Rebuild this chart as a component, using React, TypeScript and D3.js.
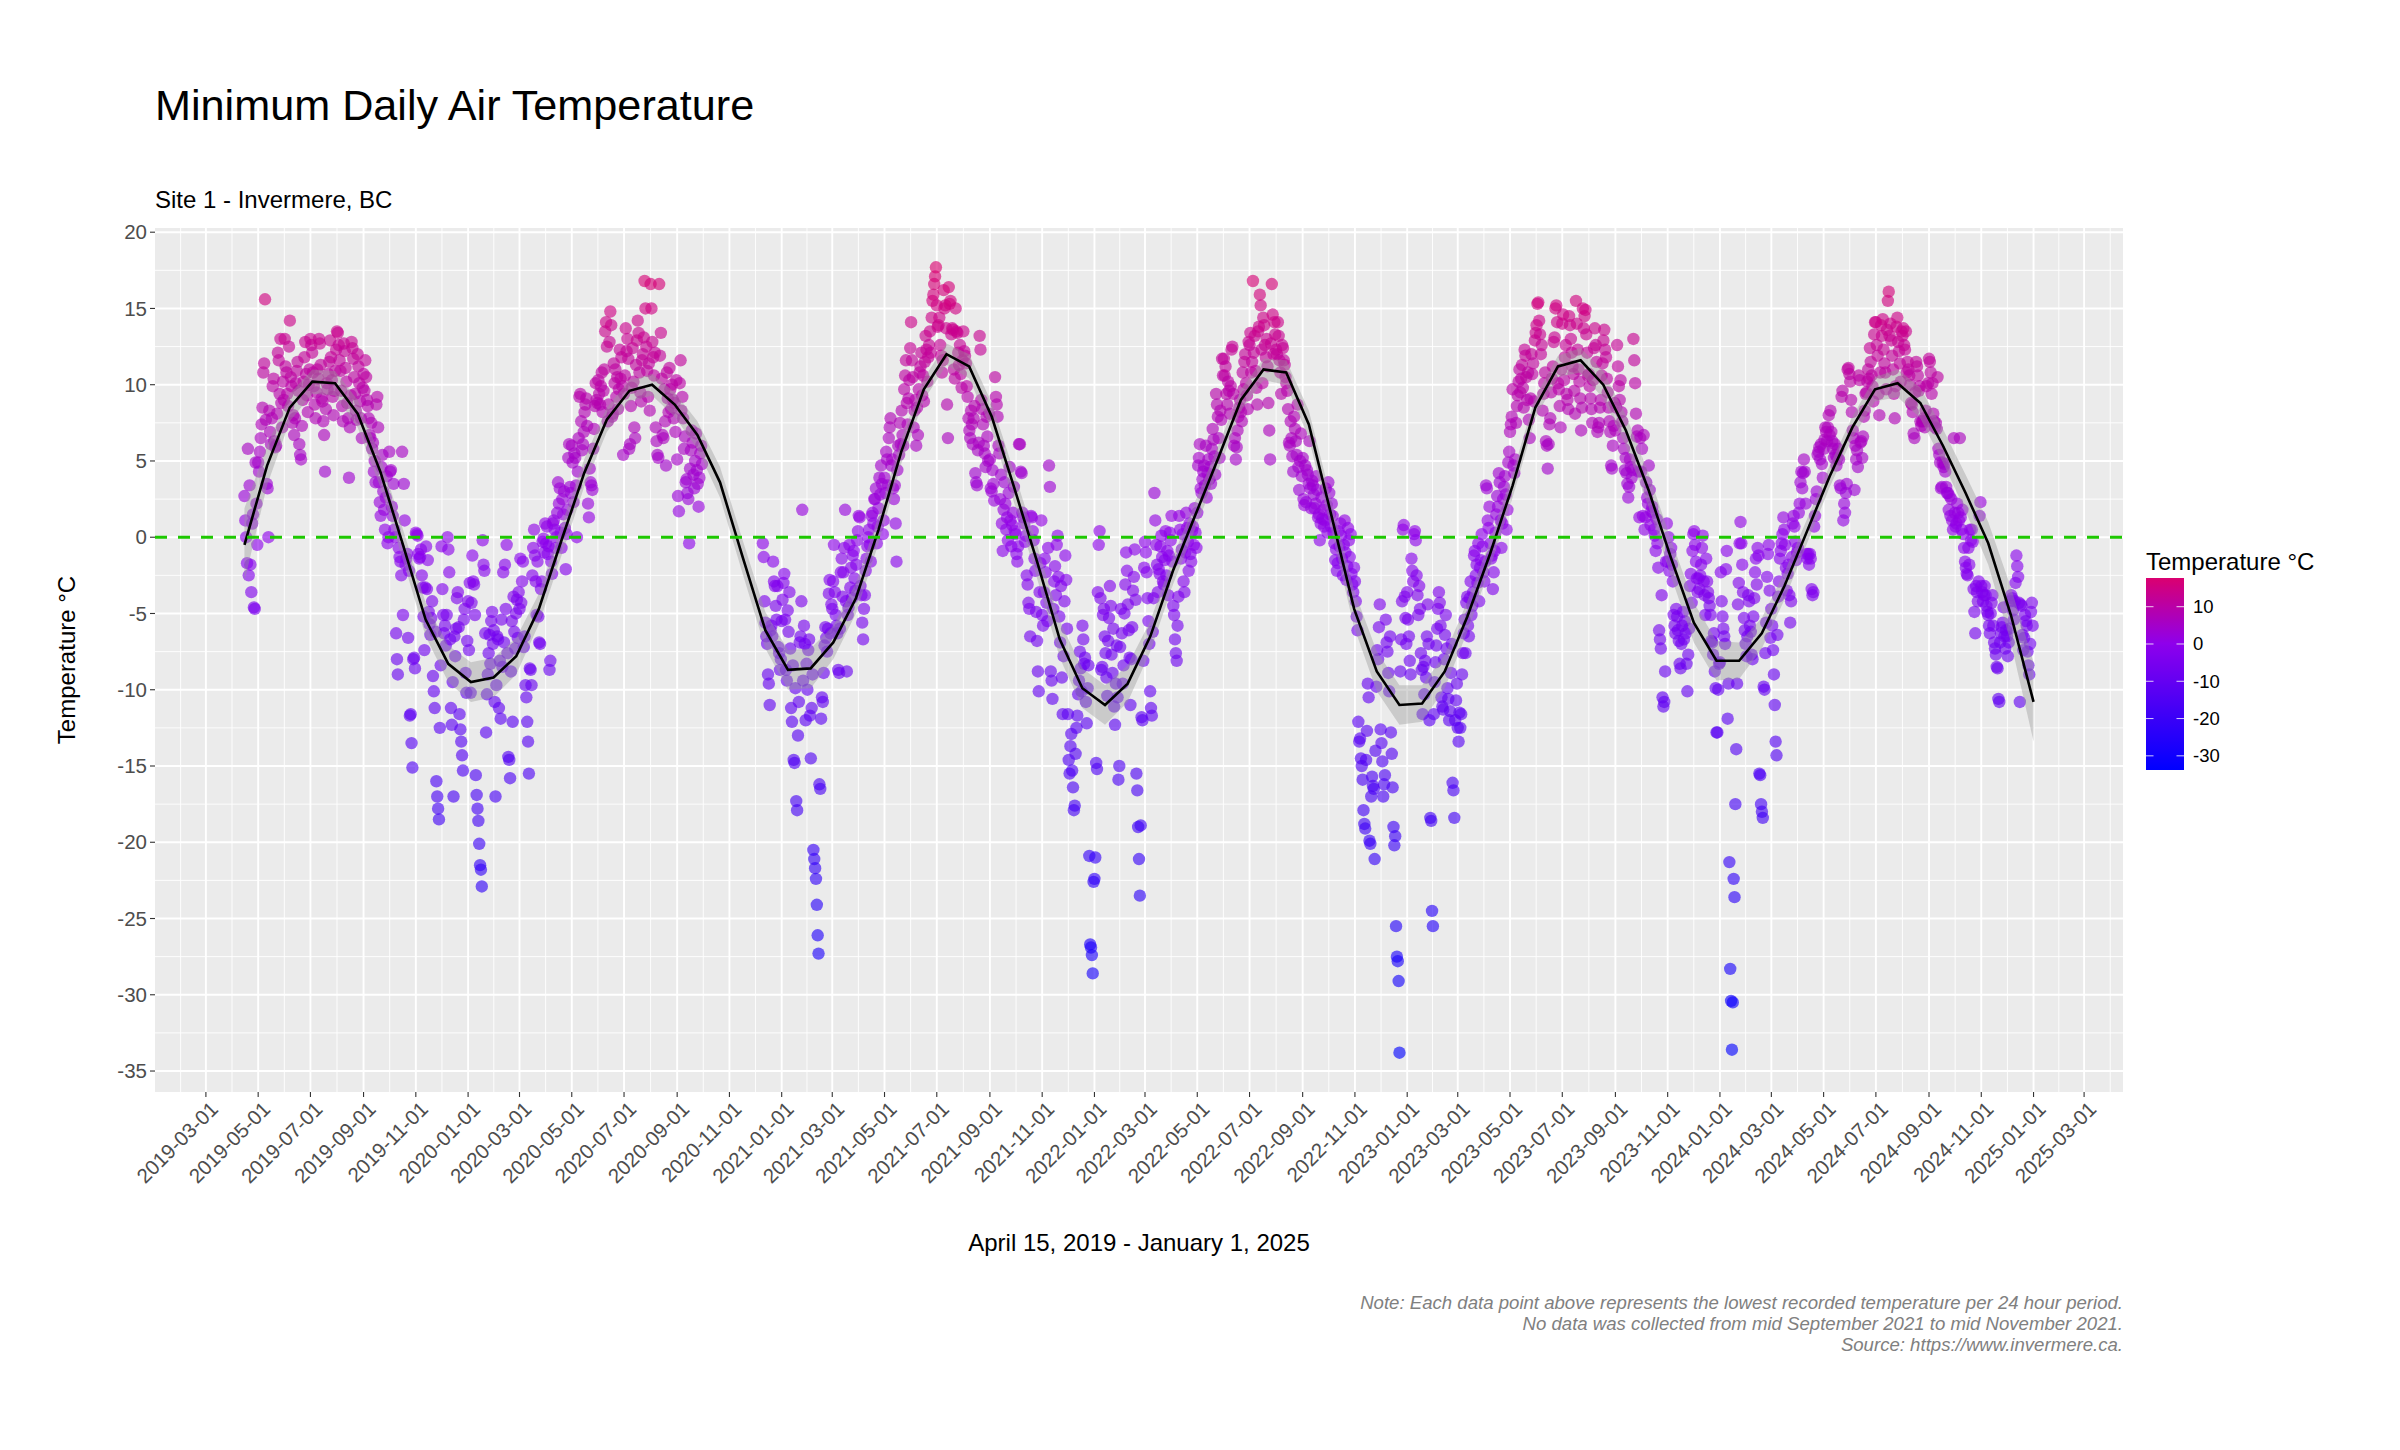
import React from "react";
import * as d3 from "d3";

type Chunk = [string, number[]];

// Minimum daily temperatures (°C); each chunk starts at the given date and runs to the start of the next month.
const temps2019: Chunk[] = [
  ["2019-04-15", [2.7, 1.1, 0.0, -1.7, 5.8, -2.5, 3.4, -1.8, -3.6, 0.9, 1.5, -4.6, -4.7, 4.9, 2.2, -0.5]],
  ["2019-05-01", [4.9, 4.3, 5.6, 6.5, 7.4, 8.5, 10.8, 11.4, 15.6, 7.7, 3.5, 3.2, 0.0, 8.3, 6.9, 6.1, 7.8, 9.9, 10.4, 6.3, 5.9, 6.0, 8.1, 12.1, 11.6, 9.4, 13.0, 8.8, 7.2, 10.2, 9.0]],
  ["2019-06-01", [13.0, 11.2, 10.8, 9.4, 8.6, 12.5, 14.2, 10.5, 9.9, 7.5, 8.0, 6.7, 7.8, 10.1, 10.9, 11.5, 9.6, 6.1, 5.4, 5.1, 7.3, 9.0, 10.2, 11.8, 12.8, 10.7, 9.3, 8.2, 10.0, 11.0]],
  ["2019-07-01", [13.0, 12.6, 12.1, 10.8, 9.9, 8.7, 7.8, 9.5, 11.0, 10.4, 13.0, 12.7, 11.3, 9.1, 8.9, 7.6, 6.7, 4.3, 8.4, 10.1, 9.7, 10.7, 11.5, 12.9, 11.8, 10.3, 9.2, 8.0, 9.6, 10.9, 12.3]],
  ["2019-08-01", [13.5, 13.4, 12.6, 11.6, 10.9, 9.6, 8.6, 7.6, 12.7, 12.2, 11.1, 10.2, 8.8, 7.8, 3.9, 7.2, 9.3, 12.8, 12.4, 11.7, 10.5, 9.4, 8.3, 7.7, 12.0, 11.2, 10.1, 8.9, 7.8, 6.5, 9.8]],
  ["2019-09-01", [10.7, 9.6, 11.6, 10.5, 9.0, 8.6, 7.8, 6.7, 6.5, 7.5, 5.8, 6.2, 4.3, 5.0, 3.6, 8.7, 9.2, 7.2, 3.6, 2.3, 1.4, 4.6, 5.4, 3.0, 1.8, 0.5, 2.6, 4.0, -0.4, 0.0]],
  ["2019-10-01", [5.6, 4.3, 4.4, 2.0, 1.4, 3.5, 0.5, 0.0, -6.3, -8.0, -9.0, -0.7, -1.3, -1.6, -2.5, 5.6, -5.1, 3.5, 1.1, -1.8, -1.4, -1.1, -6.6, -2.2, -11.7, -11.6, -13.5, -15.1, -8.0, -7.9, -8.6]],
  ["2019-11-01", [0.3, 0.2, 0.1, -1.1, -1.4, -1.3, -0.8, -2.5, -3.3, -5.2, -7.4, -3.3, -0.6, -3.4, -1.5, -4.9, -5.7, -6.4, -5.3, -4.2, -9.1, -10.1, -11.2, -6.2, -16.0, -17.0, -17.8, -18.5, -12.5, -8.4]],
  ["2019-12-01", [-0.6, -3.4, -5.1, -6.3, -5.8, -7.1, -5.1, 0.0, -0.8, -2.3, -6.7, -11.2, -12.3, -9.5, -17.0, -6.5, -7.8, -6.0, -4.0, -3.6, -5.9, -11.6, -12.6, -13.4, -14.3, -15.3, -5.4, -4.7, -8.9, -10.2, -6.8]],
];

const temps2020: Chunk[] = [
  ["2020-01-01", [-4.2, -7.4, -3.0, -10.2, -4.3, -1.2, -2.9, -3.1, -5.1, -15.6, -16.9, -17.8, -18.6, -20.1, -21.5, -21.8, -22.9, -0.2, -1.8, -2.2, -6.3, -12.8, -10.3, -9.0, -7.6, -6.4, -8.3, -5.5, -4.9, -7.0, -6.1]],
  ["2020-02-01", [-10.8, -17.0, -9.7, -6.5, -6.7, -11.2, -8.1, -11.9, -5.4, -8.5, -2.3, -6.9, -1.8, -4.7, -0.5, -7.6, -14.4, -14.6, -15.8, -8.8, -5.5, -12.1, -3.9, -6.2, -7.3, -5.0, -4.1, -6.6, -3.6]],
  ["2020-03-01", [-4.7, -1.4, -4.3, -2.9, -1.6, -7.2, -6.5, -9.7, -10.5, -12.1, -13.4, -15.5, -8.6, -8.7, -9.7, -2.5, -0.7, 0.5, -1.2, -2.9, -5.1, -1.6, -5.2, -6.9, -7.0, -3.4, -2.9, -0.3, -0.1, -1.0, 0.9]],
  ["2020-04-01", [-0.4, 0.7, -1.1, -0.6, -8.7, -8.1, -1.6, -2.4, 0.9, 1.1, 0.5, -0.7, 0.0, 1.6, 3.6, 2.2, 3.2, 0.3, -0.7, 2.5, 1.5, 3.0, 0.6, -2.1, 0.2, 1.8, 5.2, 6.1, 3.3, 2.9]],
  ["2020-05-01", [6.0, 4.9, 2.3, 5.5, 5.2, 3.4, 0.0, 4.3, 6.5, 9.2, 9.4, 7.6, 5.7, 6.1, 6.9, 8.2, 8.7, 9.1, 7.3, 2.2, 1.3, 4.5, 3.6, 3.4, 3.1, 5.8, 7.1, 8.6, 10.1, 9.0, 8.8]],
  ["2020-06-01", [10.3, 9.4, 8.7, 9.9, 10.8, 8.2, 9.6, 11.0, 13.5, 14.1, 12.5, 7.6, 8.7, 12.8, 14.8, 13.9, 7.9, 8.1, 11.4, 10.1, 11.0, 9.2, 10.5, 8.4, 9.7, 12.3, 10.4, 11.8, 9.9, 5.4]],
  ["2020-07-01", [9.4, 10.6, 13.7, 12.2, 13.0, 11.7, 5.8, 6.1, 8.6, 9.8, 12.4, 10.2, 7.2, 6.5, 11.3, 12.9, 14.2, 13.4, 10.8, 9.5, 8.9, 11.6, 12.0, 13.1, 16.8, 15.0, 12.5, 10.9, 9.2, 11.4, 8.3]],
  ["2020-08-01", [16.6, 15.0, 12.8, 11.8, 10.6, 12.1, 7.2, 6.3, 5.4, 5.2, 16.6, 11.9, 13.4, 10.4, 6.7, 6.5, 9.7, 7.6, 4.7, 10.8, 9.1, 8.2, 11.1, 9.7, 8.4, 10.0, 9.0, 7.8, 8.8, 6.9, 10.3]],
  ["2020-09-01", [5.1, 2.7, 1.7, 10.1, 11.6, 8.3, 9.2, 7.8, 5.8, 6.6, 3.6, 3.8, 2.9, 2.5, -0.4, 4.5, 5.7, 7.0, 6.2, 4.1, 3.2, 5.0, 6.8, 4.4, 3.5, 2.0, 3.9, 5.5, 6.0, 4.8]],
  ["2020-12-10", [-0.4, -1.3, -4.2, -5.6, -6.5, -7.0, -9.0, -9.6, -11.0, -6.1, -5.8, -6.5, -1.6, -2.9, -3.2, -4.5, -5.4, -3.2, -7.2, -7.6, -8.7, -8.0]],
];

const temps2021: Chunk[] = [
  ["2021-01-01", [-5.5, -4.1, -3.0, -2.4, -5.4, -8.7, -9.4, -4.8, -6.2, -3.6, -7.3, -11.2, -12.1, -8.4, -14.6, -14.8, -9.9, -17.3, -17.9, -13.0, -10.8, -6.9, -6.5, -4.2, 1.8, -9.4, -5.8, -7.0, -12.0, -8.3, -10.0]],
  ["2021-02-01", [-7.4, -6.7, -11.7, -14.5, -11.2, -9.0, -20.5, -21.1, -21.7, -22.4, -24.1, -26.1, -27.3, -16.2, -16.5, -11.9, -10.5, -10.8, -8.9, -7.1, -5.9, -6.6, -7.5, -6.0, -3.7, -2.8, -6.3, -4.4]],
  ["2021-03-01", [-4.7, -2.9, -0.5, -3.6, -5.1, -5.8, -6.3, -8.7, -8.9, -6.0, -2.3, -1.4, -3.9, -2.3, -0.7, 1.8, -4.2, -8.8, -5.1, -4.6, -0.5, -3.3, -2.0, -4.0, -1.2, -0.9, -2.7, -3.5, -1.8, -0.2, 0.4]],
  ["2021-04-01", [1.4, 1.3, -3.2, -3.8, -5.6, -6.7, -4.7, -3.8, -2.2, -1.4, -0.6, 0.0, 0.5, -0.5, -1.6, 1.4, 1.6, 0.9, 2.5, 2.5, 3.2, -0.4, 0.7, 1.9, 3.9, 2.8, 4.7, 3.5, 0.2, 1.1]],
  ["2021-05-01", [3.9, 2.9, 5.6, 5.1, 3.4, 6.5, 7.2, 7.8, 4.7, 5.1, 3.2, 2.5, 3.4, 0.9, -1.6, 4.4, 6.0, 5.4, 7.5, 6.1, 8.3, 6.7, 6.0, 9.7, 10.6, 11.6, 8.8, 7.4, 9.1, 10.3, 12.4]],
  ["2021-06-01", [14.1, 11.6, 10.5, 7.2, 8.3, 9.0, 6.0, 8.5, 6.7, 9.7, 10.8, 11.2, 12.1, 9.3, 10.6, 8.9, 11.5, 13.2, 12.3, 10.2, 11.8, 12.6, 13.5, 12.1, 14.4, 15.5, 15.9, 16.6, 17.1, 17.7]],
  ["2021-07-01", [15.2, 13.8, 13.9, 14.4, 12.6, 11.9, 10.8, 11.6, 16.2, 15.0, 15.2, 13.7, 8.7, 6.5, 16.4, 15.3, 15.5, 13.3, 13.7, 13.6, 11.0, 10.4, 15.0, 13.5, 13.4, 12.1, 11.3, 12.6, 10.7, 9.8, 11.6]],
  ["2021-08-01", [13.5, 12.2, 11.9, 11.4, 9.9, 9.2, 7.8, 7.0, 6.5, 8.3, 7.4, 6.1, 7.8, 8.6, 4.2, 3.6, 3.4, 5.7, 6.2, 13.2, 12.3, 9.0, 8.4, 7.4, 6.0, 5.5, 4.6, 7.9, 6.6, 5.0, 8.1]],
  ["2021-09-01", [5.1, 3.2, 3.0, 4.4, 3.5, 2.4, 10.5, 9.2, 8.7, 7.9, 6.0, 5.5, 2.5, 4.1, 0.9, -0.9, 1.8, 3.6, 2.2, 0.5, 1.3, -0.2, 2.9, 4.6, 1.1, -0.6, 0.8, 1.6, 3.3, 0.4]],
  ["2021-10-01", [0.2, -1.1, -1.6, -0.6, 6.1, 6.1, 4.3, 4.2, 1.6, 1.3, 0.9, -0.3, 0.1, -2.5, -3.1, -4.3, -4.7, -6.5, 1.4, 1.3, 0.4, -0.2, -1.4, -2.2, -4.9, -6.8, -8.8, -10.1, -3.6, -1.7, 1.1]],
  ["2021-11-01", [-5.1, -5.8, -3.6, -1.4, -2.3, -4.3, -5.5, -0.7, 4.7, 3.3, -8.8, -9.4, -10.6, -4.7, -2.9, -1.9, -3.8, -0.5, 0.1, -2.6, -5.2, -6.9, -3.2, -9.2, -11.6, -7.8, -4.2, -1.2, -2.8, -6.0]],
  ["2021-12-01", [-11.6, -14.6, -15.5, -13.7, -12.9, -15.3, -16.4, -17.9, -17.6, -14.2, -12.5, -11.7, -10.3, -9.4, -7.5, -8.6, -10.1, -5.8, -6.7, -8.3, -7.9, -10.8, -12.2, -9.9, -8.4, -20.9, -26.7, -26.9, -27.4, -28.6, -22.6]],
];

const temps2022: Chunk[] = [
  ["2022-01-01", [-22.4, -21.0, -14.8, -15.2, -3.6, -0.5, 0.4, -4.0, -8.7, -8.5, -5.1, -4.7, -6.5, -7.6, -9.2, -10.4, -6.8, -5.3, -3.2, -4.5, -7.7, -8.9, -6.0, -11.1, -12.3, -9.6, -7.1, -10.5, -15.9, -15.0, -7.2]],
  ["2022-02-01", [-4.7, -6.3, -9.6, -8.4, -5.0, -3.1, -1.0, -2.2, -4.4, -6.1, -7.9, -11.0, -8.0, -5.9, -3.5, -2.6, -0.8, -4.1, -15.5, -16.6, -19.0, -21.1, -23.5, -18.9, -11.8, -12.0, -8.1, -2.0]],
  ["2022-03-01", [-0.3, -1.0, -2.3, -4.0, -5.5, -7.0, -10.1, -11.2, -11.7, -6.2, -4.0, 2.9, 1.1, -0.5, -1.8, -3.6, -2.1, -2.4, -0.6, 0.1, -1.3, -2.9, -3.1, -1.5, 0.4, -2.5, -0.9, -3.8, -1.2, 0.3, -0.2]],
  ["2022-04-01", [1.4, -1.6, -4.5, -5.1, -6.7, -7.6, -8.1, -5.8, -3.9, 1.4, 0.5, -1.4, -0.8, 0.2, -2.9, -3.6, -1.0, 1.6, 0.6, -0.3, -2.2, 0.9, -1.1, -1.6, 0.4, 0.7, -0.5, 1.9, 0.3, -0.7]],
  ["2022-05-01", [1.6, 4.7, 5.2, 6.1, 3.2, 2.9, 3.8, 4.3, 4.7, 3.4, 6.0, 2.6, 4.2, 5.1, 3.8, 4.6, 3.5, 5.8, 7.1, 6.4, 5.3, 4.1, 9.4, 8.7, 7.9, 6.5, 5.2, 8.3, 7.7, 11.7, 10.6]],
  ["2022-06-01", [11.7, 10.6, 11.2, 9.4, 8.7, 10.2, 9.6, 8.1, 9.9, 12.3, 12.5, 9.4, 6.0, 6.5, 5.1, 5.9, 7.0, 7.9, 8.5, 9.0, 8.2, 7.6, 10.8, 9.7, 11.5, 12.0, 10.1, 9.3, 8.4, 12.8]],
  ["2022-07-01", [12.6, 13.4, 10.8, 11.5, 16.8, 12.1, 13.2, 10.9, 9.8, 8.7, 13.5, 13.8, 15.9, 15.2, 12.3, 10.1, 14.4, 13.9, 12.6, 11.8, 13.0, 11.2, 8.8, 7.0, 5.1, 12.7, 16.6, 14.6, 12.0, 14.1, 13.3]],
  ["2022-08-01", [12.3, 12.0, 14.1, 13.2, 11.6, 10.8, 9.4, 12.6, 12.4, 11.6, 11.3, 10.5, 10.1, 9.6, 8.4, 6.2, 6.0, 7.6, 6.5, 5.3, 4.3, 7.9, 7.1, 6.3, 5.4, 8.7, 4.6, 3.1, 5.0, 6.8, 4.0]],
  ["2022-09-01", [5.2, 2.5, 2.1, 4.7, 2.3, 4.4, 4.1, 3.5, 6.3, 3.2, 1.9, 3.7, 3.4, 2.8, 1.9, 2.2, 4.0, 3.1, 1.3, 1.5, -0.2, 0.9, 2.6, 1.2, 1.8, 0.7, 1.1, 3.2, 2.1, 0.3]],
  ["2022-10-01", [3.6, 2.9, 1.5, 0.7, 2.2, 1.4, 0.3, -0.4, -1.5, -0.8, -2.2, -1.7, 0.4, -0.6, 0.9, 0.1, -1.4, -2.5, -0.5, 1.1, -1.0, -2.8, -1.9, 0.6, -0.2, -1.3, 0.2, -2.4, -3.1, -3.6, -2.0]],
  ["2022-11-01", [-2.9, -4.2, -5.2, -6.1, -12.1, -13.4, -13.2, -14.5, -15.0, -15.9, -17.9, -18.8, -19.1, -14.6, -12.7, -9.6, -10.5, -19.9, -20.1, -17.0, -15.7, -16.3, -16.5, -21.1, -14.0, -9.8, -7.4, -8.0, -5.9, -4.4]],
  ["2022-12-01", [-12.6, -13.5, -14.7, -17.0, -16.2, -15.6, -5.4, -6.9, -7.5, -8.9, -10.1, -6.5, -12.8, -14.2, -16.4, -19.0, -20.2, -19.6, -25.5, -27.5, -27.8, -29.1, -33.8, -8.8, -6.7, -4.2, 0.5, 0.8, -3.9, -5.3, -7.0]],
];

const temps2023: Chunk[] = [
  ["2023-01-01", [-3.6, -5.4, -6.5, -8.1, -9.0, -1.4, -2.2, -2.9, 0.2, 0.4, -0.2, -2.5, -3.8, -5.1, -3.2, -4.7, -7.6, -8.7, -11.6, -8.5, -10.3, -8.1, -9.2, -6.5, -4.4, -7.0, -12.0, -18.4, -18.6, -24.5, -25.5]],
  ["2023-02-01", [-11.6, -9.5, -8.2, -7.1, -6.0, -4.7, -3.6, -4.3, -5.8, -10.5, -11.1, -11.3, -8.0, -6.4, -5.1, -7.3, -9.9, -10.6, -12.0, -11.4, -8.9, -7.0, -16.1, -16.6, -18.4, -12.0, -10.7, -9.6]],
  ["2023-03-01", [-12.5, -13.4, -11.5, -12.5, -11.6, -9.0, -7.6, -6.3, -5.4, -7.6, -4.3, -3.9, -5.8, -6.5, -4.0, -2.9, -5.1, -4.5, -3.6, -1.2, -0.9, -2.5, -1.8, -3.0, -0.4, -4.2, -2.0, -1.5, 0.2, -0.6, -2.3]],
  ["2023-04-01", [-2.9, -1.6, 3.4, 3.2, 1.1, 0.6, 2.0, -0.4, -1.4, -1.2, -3.4, -2.3, -0.9, 0.3, 1.5, 2.7, 2.0, 4.2, 3.6, 1.1, -0.7, 0.9, 2.5, 3.3, 4.0, 2.8, 0.5, 1.8, 4.9, 5.6]],
  ["2023-05-01", [6.9, 7.4, 7.9, 9.7, 4.7, 4.2, 5.1, 7.5, 8.6, 9.3, 10.2, 11.0, 9.5, 10.4, 11.3, 9.8, 8.5, 12.3, 11.9, 10.5, 9.0, 10.8, 7.7, 6.5, 9.1, 12.0, 10.7, 11.4, 8.9, 12.9, 13.4]],
  ["2023-06-01", [13.9, 15.3, 15.4, 14.2, 13.3, 12.0, 12.6, 8.3, 9.4, 10.1, 10.8, 6.3, 6.0, 4.5, 6.1, 7.4, 7.8, 9.5, 10.4, 11.2, 12.8, 13.1, 15.0, 15.2, 14.1, 10.1, 9.7, 8.6, 7.2, 11.0]],
  ["2023-07-01", [14.0, 14.6, 10.3, 11.8, 12.6, 9.4, 9.0, 8.4, 14.5, 13.9, 13.0, 12.1, 11.2, 10.7, 9.6, 8.1, 15.5, 14.0, 12.3, 11.0, 10.2, 9.1, 7.0, 8.5, 15.0, 13.7, 14.5, 14.9, 13.3, 12.1, 10.6]],
  ["2023-08-01", [10.7, 9.9, 9.1, 8.4, 7.5, 10.3, 12.4, 13.7, 12.6, 11.5, 6.9, 7.2, 7.5, 8.5, 9.0, 10.6, 11.4, 12.9, 13.6, 12.3, 11.8, 10.4, 9.5, 8.5, 7.6, 6.9, 4.7, 4.5, 6.0, 7.3, 8.8]],
  ["2023-09-01", [7.0, 8.5, 12.6, 11.2, 9.9, 9.0, 10.3, 8.2, 7.6, 6.5, 5.8, 4.4, 5.2, 4.2, 3.5, 2.6, 3.3, 5.1, 4.6, 3.9, 4.4, 13.0, 11.6, 10.1, 8.1, 6.6, 7.0, 4.3, 1.3, 6.5]],
  ["2023-10-01", [4.3, 5.8, 1.4, 6.7, 0.5, 1.3, 3.6, 2.6, 2.2, 4.7, 3.1, 0.8, 1.7, 2.0, 1.6, 0.5, 0.1, -0.9, 1.2, -0.4, -2.0, -6.1, -6.7, -7.3, -3.8, -10.5, -11.1, -10.8, -8.8, -1.6, 0.9]],
  ["2023-11-01", [-1.6, 0.0, -2.2, -1.1, -0.7, -1.8, -2.9, -5.1, -5.8, -6.3, -4.7, -5.2, -6.1, -6.8, -8.3, -8.6, -7.0, -5.8, -4.9, -6.7, -5.5, -6.3, -8.3, -10.1, -7.7, -6.0, -3.2, -2.4, -4.3, -0.9]],
  ["2023-12-01", [0.2, 0.4, -0.5, -1.6, -2.7, -3.6, -2.7, -3.4, -2.5, -1.8, -0.7, 0.1, -2.9, -3.8, -5.1, -1.4, -2.9, -3.6, -4.0, -4.5, -5.1, -6.8, -6.9, -7.7, -6.3, -8.8, -9.9, -12.8, -12.8, -10.0, -8.3]],
];

const temps2024: Chunk[] = [
  ["2024-01-01", [-8.2, -2.3, -4.2, -5.2, -6.0, -6.5, -7.0, -2.1, -0.9, -11.9, -9.6, -21.3, -28.3, -30.4, -33.6, -30.5, -22.4, -23.6, -17.5, -13.9, -9.6, -4.4, -3.0, -0.4, 1.0, -0.4, -1.8, -3.6, -5.3, -6.1, -7.0]],
  ["2024-02-01", [-7.8, -6.5, -3.8, -4.2, -5.8, -6.2, -7.7, -8.0, -5.2, -4.0, -2.3, -1.4, -3.1, -0.7, -1.2, -15.5, -15.6, -17.5, -18.0, -18.4, -9.8, -10.0, -7.6, -5.6, -2.6, -1.1, -0.5, -3.5, -6.6]],
  ["2024-03-01", [-4.7, -5.8, -7.4, -9.0, -11.0, -13.4, -14.3, -6.4, -3.9, -2.9, -1.4, -0.9, -0.4, 0.2, 1.3, 0.5, -0.5, -2.0, -3.5, -2.4, -1.8, -3.8, -5.6, -4.2, -1.3, 0.9, 1.4, 0.7, -0.3, -1.5, -1.0]],
  ["2024-04-01", [-0.7, 1.6, 2.2, 3.6, 4.3, 3.2, 4.2, 5.1, 4.3, 2.2, -1.1, -1.4, -1.1, -1.8, -1.1, -1.4, -3.4, -3.8, -3.6, 0.7, 1.4, 2.5, 3.0, 5.4, 5.6, 5.9, 5.1, 6.1, 4.8, 3.9]],
  ["2024-05-01", [5.8, 6.4, 7.2, 6.9, 6.3, 7.2, 8.0, 6.7, 8.3, 6.9, 6.3, 5.8, 5.2, 6.1, 5.4, 4.7, 5.2, 5.8, 5.1, 3.4, 3.2, 9.2, 9.6, 1.1, 2.2, 1.6, 2.9, 3.5, 11.0, 11.1, 10.7]],
  ["2024-06-01", [10.2, 9.0, 8.2, 7.0, 6.5, 3.1, 6.0, 5.1, 5.7, 4.6, 10.6, 10.3, 6.2, 6.3, 5.2, 6.6, 7.9, 8.3, 9.4, 9.5, 10.2, 11.0, 10.4, 12.4, 11.5, 10.6, 9.9, 8.9, 13.3, 14.1]],
  ["2024-07-01", [14.1, 12.6, 11.9, 9.4, 8.0, 10.8, 13.9, 13.2, 14.3, 12.3, 11.4, 10.8, 9.7, 13.6, 15.5, 16.1, 13.2, 14.0, 12.9, 11.9, 11.0, 9.4, 7.8, 9.9, 13.8, 14.4, 12.8, 12.2, 11.4, 10.2, 13.5]],
  ["2024-08-01", [13.2, 13.7, 12.6, 12.3, 13.5, 10.8, 11.5, 11.0, 10.6, 10.0, 8.8, 8.7, 8.2, 6.8, 6.5, 9.5, 11.5, 11.2, 10.6, 9.6, 9.9, 7.6, 7.3, 7.6, 7.6, 7.8, 7.2, 8.3, 9.9, 7.6, 10.1]],
  ["2024-09-01", [11.7, 11.5, 10.8, 9.4, 10.1, 8.1, 7.6, 7.2, 7.5, 7.1, 10.5, 5.8, 5.4, 4.9, 3.2, 3.3, 4.9, 4.6, 4.8, 4.3, 3.3, 2.9, 2.9, 1.8, 2.7, 1.4, 2.5, 1.1, 0.5, 6.5]],
  ["2024-10-01", [1.6, 0.7, 0.9, 2.2, 1.6, 1.1, 6.5, 1.3, 0.5, 1.8, 0.2, -0.7, -1.6, -2.0, -2.4, -2.5, -0.7, -1.8, 0.5, -0.2, 0.5, -0.3, -3.4, -4.9, -6.3, -3.2, -3.6, -4.2, -2.9, 1.4, 2.3]],
  ["2024-11-01", [-3.2, -3.6, -4.2, -3.8, -3.2, -3.8, -4.5, -4.9, -5.1, -5.8, -6.3, -5.0, -4.3, -3.8, -5.8, -6.9, -7.3, -7.7, -8.5, -8.6, -10.6, -10.8, -6.9, -6.3, -5.9, -5.6, -4.6, -6.5, -7.3, -6.1]],
  ["2024-12-01", [-6.5, -7.8, -6.9, -6.0, -4.2, -3.8, -4.0, -4.8, -5.4, -4.2, -3.0, -1.2, -1.9, -2.6, -4.3, -10.8, -4.4, -4.5, -6.4, -7.4, -6.6, -5.1, -5.5, -5.8, -7.5, -8.4, -9.0, -7.0, -4.9, -4.3, -5.8]],
];

// Smoothed trend (80 evenly spaced points from first to last date) and its standard-error half-width.
const smoothRange = ["2019-04-15", "2025-01-01"];
const smoothValues = [
  -0.5, 4.7, 8.5, 10.2, 10.1, 8.1, 4.3, -0.5, -5.4, -8.3, -9.5, -9.2, -7.8, -4.7, -0.2, 4.2, 7.7, 9.6, 10.0, 8.7,
  6.7, 3.6, -1.3, -6.1, -8.7, -8.6, -6.9, -4.0, 0.5, 5.6, 9.7, 12.0, 11.2, 7.9, 3.2, -1.6, -6.7, -9.9, -11.0, -9.6,
  -6.5, -2.2, 1.5, 5.2, 9.0, 11.0, 10.8, 7.4, 1.4, -4.7, -8.8, -11.0, -10.9, -8.8, -5.2, -1.1, 3.4, 8.5, 11.2, 11.6,
  10.0, 7.0, 3.1, -1.4, -5.6, -8.1, -8.1, -6.3, -3.2, 0.4, 4.0, 7.2, 9.7, 10.1, 8.8, 6.0, 2.9, -0.4, -5.1, -10.8,
];
const smoothSE = [
  2.4, 1.3, 0.9, 0.8, 0.8, 0.9, 1.0, 1.0, 1.1, 1.2, 1.3, 1.3, 1.2, 1.0, 1.0, 0.9, 0.8, 0.7, 0.7, 0.8,
  0.9, 1.0, 1.1, 1.2, 1.3, 1.3, 1.1, 1.0, 0.9, 0.8, 0.7, 0.7, 0.8, 0.9, 1.0, 1.1, 1.2, 1.3, 1.3, 1.2,
  1.0, 0.9, 0.9, 0.8, 0.7, 0.7, 0.8, 0.9, 1.0, 1.2, 1.3, 1.3, 1.2, 1.1, 1.0, 0.9, 0.8, 0.7, 0.7, 0.8,
  0.9, 1.0, 1.1, 1.2, 1.3, 1.3, 1.2, 1.0, 0.9, 0.8, 0.7, 0.7, 0.8, 0.9, 1.0, 1.1, 1.2, 1.4, 1.8, 2.6,
];

const yTicks = [20, 15, 10, 5, 0, -5, -10, -15, -20, -25, -30, -35];
const legendTicks = [10, 0, -10, -20, -30];
const firstDateTick = "2019-03-01";
const lastDateTick = "2025-03-01";
const colorStops = ["#0000FF", "#8E00EC", "#DA0070"];
const titleText = "Minimum Daily Air Temperature";
const subtitleText = "Site 1 - Invermere, BC";
const xTitle = "April 15, 2019 - January 1, 2025";
const yTitle = "Temperature °C";
const legendTitle = "Temperature °C";
const noteLines = [
  "Note: Each data point above represents the lowest recorded temperature per 24 hour period.",
  "No data was collected from mid September 2021 to mid November 2021.",
  "Source: https://www.invermere.ca.",
];

const parse = d3.utcParse("%Y-%m-%d");

function expand(chunks: Chunk[]) {
  const out: { date: Date; value: number }[] = [];
  for (const [s, vals] of chunks) {
    const start = parse(s) as Date;
    const end = d3.utcMonth.offset(d3.utcMonth.floor(start), 1);
    const step = (end.getTime() - start.getTime()) / vals.length;
    vals.forEach((v, i) => out.push({ date: new Date(start.getTime() + i * step), value: v }));
  }
  return out;
}

const FONT = "'Liberation Sans', Arial, Helvetica, sans-serif";

export default function App() {
  const W = 2400, H = 1450;
  const L = 155, R = 2123, T = 228, B = 1092;

  const points = [temps2019, temps2020, temps2021, temps2022, temps2023, temps2024].flatMap(expand);

  const d0 = parse(smoothRange[0]) as Date;
  const d1 = parse(smoothRange[1]) as Date;
  const span = d1.getTime() - d0.getTime();
  const x = d3.scaleUtc()
    .domain([new Date(d0.getTime() - span * 0.05), new Date(d1.getTime() + span * 0.05)])
    .range([L, R]);

  const [vmin, vmax] = d3.extent(points, (p) => p.value) as [number, number];
  const vr = vmax - vmin;
  const y = d3.scaleLinear().domain([vmin - vr * 0.05, vmax + vr * 0.05]).range([B, T]);

  const color = d3.scaleLinear<string>()
    .domain([vmin, 0, vmax])
    .range(colorStops)
    .interpolate(d3.interpolateRgb);

  const tStart = parse(firstDateTick) as Date;
  const tEnd = parse(lastDateTick) as Date;
  const xMajor = d3.utcMonth.range(tStart, d3.utcDay.offset(tEnd, 1), 2);
  const allMajor = [d3.utcMonth.offset(tStart, -2), ...xMajor, d3.utcMonth.offset(tEnd, 2)];
  const xMinor: Date[] = [];
  for (let i = 0; i < allMajor.length - 1; i++) {
    xMinor.push(new Date((allMajor[i].getTime() + allMajor[i + 1].getTime()) / 2));
  }
  const [xd0, xd1] = x.domain();
  const xMinorIn = xMinor.filter((d) => d >= xd0 && d <= xd1);
  const yMinor = d3.range(-37.5, 22.5, 5).filter((v) => v >= y.domain()[0] && v <= y.domain()[1]);
  const fmt = d3.utcFormat("%Y-%m-%d");

  const n = smoothValues.length;
  const sDates = smoothValues.map((_, i) => new Date(d0.getTime() + (span * i) / (n - 1)));
  const lineGen = d3.line<number>().x((_, i) => x(sDates[i])).y((v) => y(v));
  const areaGen = d3.area<number>()
    .x((_, i) => x(sDates[i]))
    .y0((v, i) => y(v - smoothSE[i]))
    .y1((v, i) => y(v + smoothSE[i]));

  // legend
  const LB = { x: 2146, w: 38, top: 578, bottom: 770 };
  const ly = d3.scaleLinear().domain([vmin, vmax]).range([LB.bottom, LB.top]);
  const stops = d3.range(0, 1.0001, 0.02);

  return (
    <svg width={W} height={H} style={{ position: "absolute", left: 0, top: 0, background: "#fff" }} fontFamily={FONT}>
      <rect x={0} y={0} width={W} height={H} fill="#fff" />
      <text x={155} y={120} fontSize={43.2} fill="#000">{titleText}</text>
      <text x={155} y={208} fontSize={24} fill="#000">{subtitleText}</text>

      <rect x={L} y={T} width={R - L} height={B - T} fill="#EBEBEB" />
      <g clipPath="url(#panel)">
        <clipPath id="panel"><rect x={L} y={T} width={R - L} height={B - T} /></clipPath>
        {yMinor.map((v) => (
          <line key={"ym" + v} x1={L} x2={R} y1={y(v)} y2={y(v)} stroke="#fff" strokeWidth={0.9} />
        ))}
        {xMinorIn.map((d) => (
          <line key={"xm" + d.getTime()} x1={x(d)} x2={x(d)} y1={T} y2={B} stroke="#fff" strokeWidth={0.9} />
        ))}
        {yTicks.map((v) => (
          <line key={"yM" + v} x1={L} x2={R} y1={y(v)} y2={y(v)} stroke="#fff" strokeWidth={1.9} />
        ))}
        {xMajor.map((d) => (
          <line key={"xM" + d.getTime()} x1={x(d)} x2={x(d)} y1={T} y2={B} stroke="#fff" strokeWidth={1.9} />
        ))}
        {points.map((p, i) => (
          <circle key={i} cx={x(p.date)} cy={y(p.value)} r={6.2} fill={color(p.value)} fillOpacity={0.62} />
        ))}
        <path d={areaGen(smoothValues) || ""} fill="#999999" fillOpacity={0.4} />
        <path d={lineGen(smoothValues) || ""} fill="none" stroke="#000" strokeWidth={2.6} />
        <line x1={L} x2={R} y1={y(0)} y2={y(0)} stroke="#1DC800" strokeWidth={3} strokeDasharray="12 11" />
      </g>

      {yTicks.map((v) => (
        <g key={"yt" + v}>
          <line x1={L - 5} x2={L} y1={y(v)} y2={y(v)} stroke="#333" strokeWidth={1.1} />
          <text x={L - 8} y={y(v)} dy="0.35em" textAnchor="end" fontSize={20.5} fill="#4D4D4D">{v}</text>
        </g>
      ))}
      {xMajor.map((d) => (
        <g key={"xt" + d.getTime()}>
          <line x1={x(d)} x2={x(d)} y1={B} y2={B + 5} stroke="#333" strokeWidth={1.1} />
          <text
            transform={`translate(${x(d) + 3},${B + 8}) rotate(-45)`}
            textAnchor="end"
            dy="0.72em"
            fontSize={20.5}
            fill="#4D4D4D"
          >
            {fmt(d)}
          </text>
        </g>
      ))}

      <text x={(L + R) / 2} y={1251} textAnchor="middle" fontSize={24} fill="#000">{xTitle}</text>
      <text transform={`translate(75,${(T + B) / 2}) rotate(-90)`} textAnchor="middle" fontSize={24} fill="#000">{yTitle}</text>

      <text x={LB.x} y={570} fontSize={24} fill="#000">{legendTitle}</text>
      <defs>
        <linearGradient id="lg" x1="0" y1="1" x2="0" y2="0">
          {stops.map((t) => (
            <stop key={t} offset={t} stopColor={color(vmin + t * (vmax - vmin))} />
          ))}
        </linearGradient>
      </defs>
      <rect x={LB.x} y={LB.top} width={LB.w} height={LB.bottom - LB.top} fill="url(#lg)" />
      {legendTicks.map((v) => (
        <g key={"lt" + v}>
          <line x1={LB.x} x2={LB.x + 7.5} y1={ly(v)} y2={ly(v)} stroke="#fff" strokeOpacity={0.8} strokeWidth={1} />
          <line x1={LB.x + LB.w - 7.5} x2={LB.x + LB.w} y1={ly(v)} y2={ly(v)} stroke="#fff" strokeOpacity={0.8} strokeWidth={1} />
          <text x={2193} y={ly(v)} dy="0.35em" fontSize={18.5} fill="#000">{v}</text>
        </g>
      ))}

      {noteLines.map((s, i) => (
        <text key={s} x={R} y={1309 + i * 21} textAnchor="end" fontSize={18.6} fontStyle="italic" fill="#808080">{s}</text>
      ))}
    </svg>
  );
}
